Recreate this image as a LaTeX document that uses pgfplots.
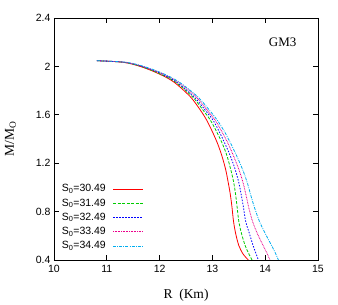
\documentclass[border=0pt]{standalone}
\usepackage{pgfplots}
\pgfplotsset{compat=1.18}
\usepackage{fontspec}
\setmainfont{Liberation Serif}
\newfontfamily\helv{Liberation Sans}
\tikzset{
  sA/.style={red, line width=0.8pt, solid},
  sB/.style={green!80!black, line width=0.8pt, dash pattern=on 3pt off 1.5pt},
  sC/.style={blue, line width=0.8pt, dash pattern=on 1.5pt off 1.5pt},
  sD/.style={magenta, line width=0.8pt, dash pattern=on 0.8pt off 0.8pt},
  sE/.style={cyan, line width=0.8pt, dash pattern=on 3pt off 1.2pt on 0.8pt off 1.2pt},
  legtxt/.style={anchor=east, inner sep=0pt, font=\helv\fontsize{10.5}{11}\selectfont},
}
\begin{document}
\begin{tikzpicture}[x=1pt,y=1pt]
\path (-54,-45) rectangle (284,260);
\begin{axis}[
  at={(0,0)}, anchor=south west,
  scale only axis, width=264pt, height=242pt,
  xmin=10, xmax=15, ymin=0.4, ymax=2.4,
  xtick={10,11,12,13,14,15},
  ytick={0.4,0.8,1.2,1.6,2,2.4},
  yticklabels={0.4,0.8,1.2,1.6,2,2.4},
  xticklabels={10,11,12,13,14,15},
  tick align=inside, major tick length=5pt,
  tick style={black, line width=0.6pt},
  axis line style={line width=0.6pt},
  ticklabel style={font=\helv\fontsize{10.5}{12}\selectfont},
  xticklabel style={yshift=-2pt},
  xlabel={R\ \ (Km)}, ylabel={M/M\textsubscript{O}},
  label style={font=\fontsize{13.5}{15}\selectfont},
  xlabel style={at={(axis description cs:0.5,-0.145)}, anchor=center},
  ylabel style={at={(axis description cs:-0.165,0.5)}, anchor=center},
]
\addplot[sA, smooth] coordinates {(10.81,2.047)(11.31,2.034)(11.63,2.0)(11.95,1.946)(12.26,1.874)(12.58,1.75)(12.77,1.64)(12.89,1.557)(13.0,1.46)(13.1,1.36)(13.18,1.26)(13.25,1.15)(13.30,1.04)(13.34,0.94)(13.37,0.84)(13.40,0.72)(13.44,0.62)(13.50,0.52)(13.58,0.45)(13.68,0.40)};
\addplot[sB, smooth] coordinates {(10.81,2.047)(11.32,2.034)(11.65,2.0)(11.97,1.946)(12.29,1.874)(12.62,1.75)(12.82,1.64)(12.96,1.557)(13.08,1.46)(13.18,1.37)(13.27,1.27)(13.34,1.16)(13.40,1.05)(13.44,0.94)(13.47,0.83)(13.50,0.72)(13.55,0.62)(13.62,0.52)(13.68,0.46)(13.75,0.40)};
\addplot[sC, smooth] coordinates {(10.81,2.047)(11.34,2.034)(11.67,2.0)(12.00,1.946)(12.31,1.874)(12.65,1.75)(12.86,1.64)(13.01,1.557)(13.13,1.46)(13.24,1.36)(13.34,1.26)(13.43,1.15)(13.50,1.04)(13.55,0.93)(13.59,0.83)(13.63,0.72)(13.70,0.62)(13.77,0.52)(13.82,0.46)(13.87,0.40)};
\addplot[sD, smooth] coordinates {(10.81,2.047)(11.35,2.034)(11.68,2.0)(12.02,1.946)(12.34,1.874)(12.69,1.75)(12.90,1.64)(13.05,1.557)(13.18,1.46)(13.30,1.36)(13.40,1.26)(13.50,1.15)(13.58,1.04)(13.64,0.93)(13.69,0.83)(13.76,0.72)(13.85,0.62)(13.96,0.52)(14.03,0.46)(14.09,0.40)};
\addplot[sE, smooth] coordinates {(10.81,2.047)(11.36,2.034)(11.70,2.0)(12.04,1.946)(12.36,1.874)(12.72,1.75)(12.94,1.64)(13.09,1.557)(13.23,1.46)(13.35,1.36)(13.46,1.26)(13.57,1.15)(13.66,1.04)(13.73,0.93)(13.80,0.83)(13.89,0.72)(14.00,0.62)(14.12,0.52)(14.19,0.46)(14.25,0.40)};
\draw[sA, draw=red] (axis description cs:0.2235,0.2934) -- ++(30pt,0pt);
\draw[sB, draw=green!80!black] (axis description cs:0.2235,0.2345) -- ++(30pt,0pt);
\draw[sC, draw=blue] (axis description cs:0.2235,0.1756) -- ++(30pt,0pt);
\draw[sD, draw=magenta] (axis description cs:0.2235,0.1167) -- ++(30pt,0pt);
\draw[sE, draw=cyan] (axis description cs:0.2235,0.0578) -- ++(30pt,0pt);
\node[legtxt] at (axis description cs:0.197,0.2934) {S\textsubscript{0}=30.49};
\node[legtxt] at (axis description cs:0.197,0.2345) {S\textsubscript{0}=31.49};
\node[legtxt] at (axis description cs:0.197,0.1756) {S\textsubscript{0}=32.49};
\node[legtxt] at (axis description cs:0.197,0.1167) {S\textsubscript{0}=33.49};
\node[legtxt] at (axis description cs:0.197,0.0578) {S\textsubscript{0}=34.49};
\node[font=\fontsize{13}{15}\selectfont] at (axis cs:14.33,2.2) {GM3};
\end{axis}
\end{tikzpicture}
\end{document}
